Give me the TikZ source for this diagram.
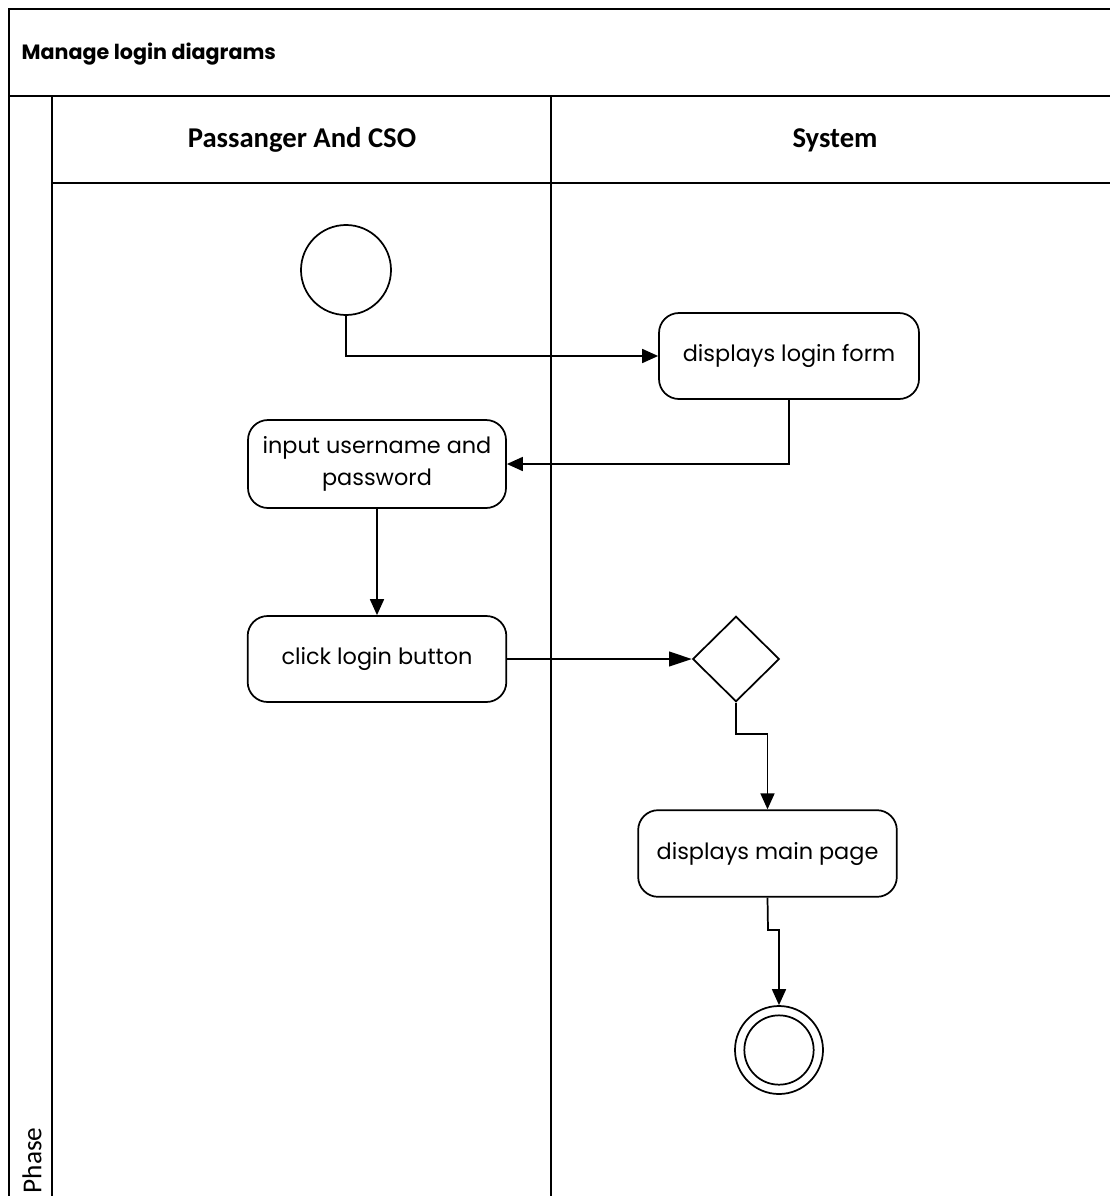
\documentclass[tikz,border=0pt]{standalone}
\usepackage{fontspec}
\setmainfont{Poppins}
\newfontfamily\hdrfont{Carlito}
\usetikzlibrary{arrows.meta,shapes.geometric}
\tikzset{
  lane/.style={line width=1.6pt},
  act/.style={draw, line width=1.3pt, rounded corners=15pt, align=center, font=\fontsize{16.8}{24}\selectfont, inner sep=0pt},
  flow/.style={line width=1.3pt, -{Triangle[length=12pt,width=10.5pt]}},
  hdr/.style={font=\hdrfont\bfseries\fontsize{21.5}{24}\selectfont},
}
\begin{document}
\begin{tikzpicture}[x=0.75pt,y=-0.75pt]
\useasboundingbox (0,0) rectangle (1110,1196);
\clip (0,0) rectangle (1110,1196);
% frame
\draw[lane] (1120,9) -- (9,9) -- (9,1210);
\draw[lane] (9,96) -- (1120,96);
\draw[lane] (52,96) -- (52,1210);
\draw[lane] (52,183) -- (1120,183);
\draw[lane] (551,96) -- (551,1210);
\node[anchor=west, font=\bfseries\fontsize{15.5}{18}\selectfont] (title) at (17,54) {Manage login diagrams};
\node[hdr] (h1) at (302,140) {Passanger And CSO};
\node[hdr] (h2) at (835,140) {System};
\node[rotate=90, anchor=west, font=\hdrfont\fontsize{20.5}{24}\selectfont] (phase) at (32,1198) {Phase};
% nodes
\node[draw, circle, line width=1.3pt, minimum size=67.5pt, inner sep=0pt] (start) at (346,270) {};
\node[act, minimum width=195pt, minimum height=64.5pt] (form) at (789,356) {displays login form};
\node[act, minimum width=193.5pt, minimum height=66pt] (input) at (377,464) {input username and\\password};
\node[act, minimum width=194pt, minimum height=64.5pt] (click) at (377,659) {click login button};
\node[draw, diamond, line width=1.3pt, minimum width=65pt, minimum height=64pt, inner sep=0pt] (dec) at (736,659) {};
\node[act, minimum width=194pt, minimum height=65pt] (main) at (767.5,853.5) {displays main page};
\node[draw, circle, line width=1.3pt, minimum size=66pt, inner sep=0pt] (end) at (779,1050) {};
\node[draw, circle, line width=1.3pt, minimum size=52pt, inner sep=0pt] (endin) at (779,1050) {};
% connectors
\draw[flow] (start.south) |- (form.west);
\draw[flow] (form.south) |- (input.east);
\draw[flow] (input.south) -- (click.north);
\draw[flow, -{Triangle[length=17pt,width=11pt]}] (click.east) -- (dec.west);
\draw[flow] (dec.south) -- (736,734) -| (main.north);
\draw[flow] (main.south) -- (768,930) -| (end.north);
\end{tikzpicture}
\end{document}
